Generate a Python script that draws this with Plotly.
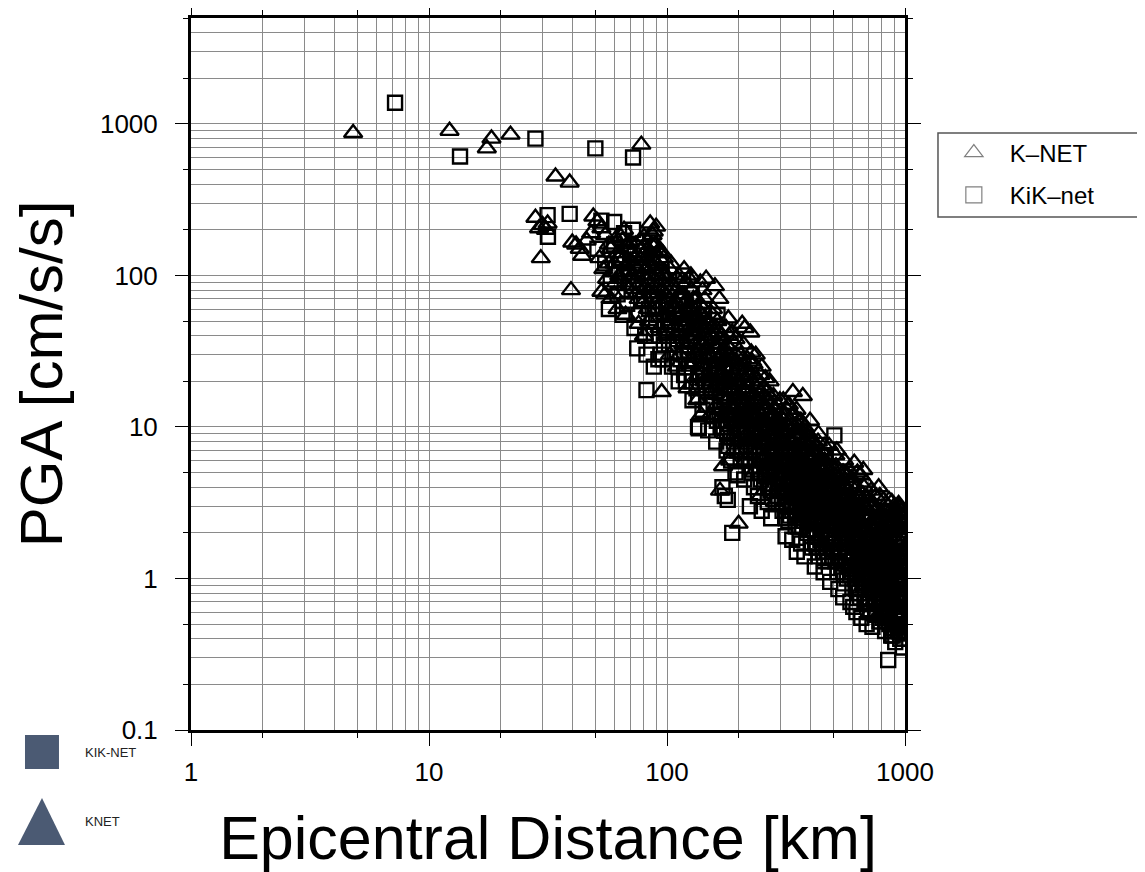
import plotly.graph_objects as go

# ---------------- data ----------------
# K-NET stations: (epicentral distance km, PGA cm/s/s)
knet_points = [
    (4.8, 870), (12.2, 900), (17.5, 690), (18.3, 800), (22.0, 850), (34.0, 450), (39.0, 410), (78.0, 730),
    (28.0, 240), (29.0, 205), (30.0, 215), (31.0, 200), (29.5, 130), (31.5, 220), (39.5, 80), (40.0, 165),
    (41.5, 160), (44.0, 135), (43.0, 150), (46.0, 170), (49.0, 245), (51.0, 228), (53.0, 205), (48.0, 190),
    (55.0, 185), (57.0, 160),
    (52, 130), (54, 110), (56, 95), (58, 150), (60, 120), (62, 140), (63, 100), (65, 170), (66, 130), (67, 85),
    (68, 115), (69, 150), (60, 75), (58, 70), (55, 75), (62, 60), (64, 180), (66, 200), (70, 165), (70, 95),
    (53, 78), (57, 120), (61, 175), (67, 55), (69, 105),
    (71, 140), (72, 120), (73, 90), (74, 160), (75, 110), (76, 70), (77, 130), (78, 150), (79, 100), (80, 180),
    (81, 85), (82, 125), (83, 60), (84, 140), (85, 220), (86, 100), (87, 75), (88, 195), (89, 160), (90, 120),
    (91, 90), (92, 145), (93, 45), (94, 110), (95, 17), (96, 80), (97, 130), (98, 55), (99, 100), (90, 210),
    (87, 185), (84, 50), (80, 40), (76, 48), (93, 70),
    (100, 95), (102, 70), (104, 120), (105, 50), (107, 85), (108, 40), (110, 65), (112, 100), (113, 30), (115, 55),
    (116, 75), (118, 45), (120, 90), (121, 35), (123, 60), (125, 25), (127, 80), (128, 42), (130, 55), (132, 30),
    (133, 70), (135, 22), (137, 48), (138, 90), (140, 35), (142, 60), (143, 20), (145, 40), (147, 28), (149, 50),
    (110, 25), (118, 110), (126, 100), (134, 15), (141, 80), (146, 95), (103, 30), (122, 18), (139, 12), (148, 18),
    (151, 30), (153, 45), (155, 20), (156, 60), (158, 25), (160, 35), (162, 14), (163, 50), (165, 22), (167, 3.8),
    (168, 30), (170, 40), (171, 12), (173, 18), (175, 25), (176, 9), (178, 35), (180, 15), (181, 52), (183, 20),
    (185, 10), (186, 28), (188, 42), (190, 14), (191, 7), (193, 22), (195, 30), (196, 11), (198, 16), (199, 8),
    (159, 85), (166, 70), (172, 5.5), (184, 6), (152, 12), (177, 45), (194, 38), (200, 2.3), (169, 16), (187, 19),
    (202, 25), (205, 15), (207, 48), (208, 9), (210, 35), (212, 20), (214, 6), (215, 12), (218, 28), (220, 18),
    (222, 8), (224, 42), (225, 14), (228, 22), (230, 10), (232, 5), (234, 16), (236, 30), (238, 12), (240, 7),
    (243, 20), (245, 9), (248, 15), (250, 25), (252, 6), (255, 11), (258, 18), (260, 8), (263, 13), (265, 4.5),
    (268, 10), (270, 20), (273, 7), (275, 12), (278, 5.5), (280, 16), (283, 9), (285, 6), (288, 11), (290, 14),
    (292, 4), (295, 8), (297, 12), (299, 6.5), (246, 3.5), (262, 17), (226, 31), (212, 45), (284, 3.2), (267, 15),
    (302, 10), (305, 6), (308, 15), (310, 4), (312, 8), (315, 12), (318, 5), (320, 9), (323, 3.5), (325, 14),
    (328, 7), (330, 11), (333, 4.5), (335, 8), (338, 17), (340, 6), (343, 10), (345, 3), (348, 5.5), (350, 13),
    (353, 7.5), (355, 4), (358, 9), (360, 2.5), (363, 6), (365, 11), (368, 5), (370, 3.2), (373, 8), (375, 4.2),
    (378, 10), (380, 6.5), (383, 2.8), (385, 5), (388, 7), (390, 3.6), (393, 9), (395, 4.8), (398, 2.2), (372, 16),
    (402, 6), (405, 3), (408, 8), (410, 2), (413, 5), (415, 4), (418, 7), (420, 2.6), (423, 3.5), (425, 6.5),
    (428, 1.8), (430, 4.5), (433, 9), (435, 3), (438, 5.5), (440, 2.2), (443, 7), (445, 3.8), (448, 1.6), (450, 5),
    (455, 2.8), (460, 6), (465, 3.4), (470, 1.9), (475, 4.2), (480, 7.5), (485, 2.4), (490, 5.5), (495, 3), (500, 1.5),
    (505, 4), (510, 6.5), (515, 2.2), (520, 3.6), (525, 1.3), (530, 5), (535, 2.7), (540, 4.4), (545, 1.8), (550, 3.2),
    (555, 6), (560, 2.1), (565, 1.2), (570, 3.8), (575, 2.5), (580, 5.2), (585, 1.6), (590, 2.9), (595, 4.6), (598, 1.1),
    (603, 3), (607, 1.8), (612, 5.8), (616, 2.4), (620, 1.2), (625, 4), (630, 2), (635, 3.4), (640, 1), (645, 2.8),
    (650, 4.8), (655, 1.5), (660, 2.2), (665, 3.6), (670, 0.9), (675, 1.8), (680, 2.9), (685, 4.3), (690, 1.3), (695, 2.4),
    (700, 3.2), (705, 0.8), (710, 1.9), (715, 2.6), (720, 3.8), (725, 1.1), (730, 2.1), (735, 0.7), (740, 3), (745, 1.6),
    (750, 2.4), (755, 3.5), (760, 1.2), (765, 0.65), (770, 2), (775, 4), (780, 1.4), (785, 2.7), (790, 0.9), (795, 1.8),
    (632, 0.95), (668, 5.2), (712, 0.6), (758, 0.55), (748, 1.45),
    (803, 2.5), (808, 1.2), (812, 3.3), (817, 0.8), (822, 1.9), (826, 2.8), (830, 1.5), (835, 0.6), (840, 2.2), (845, 3),
    (850, 1.1), (855, 1.7), (860, 2.5), (865, 0.5), (870, 1.3), (875, 2), (880, 3.2), (885, 0.9), (890, 1.6), (895, 2.3),
    (900, 0.45), (905, 1.2), (910, 2.7), (915, 1.8), (920, 0.7), (925, 1.4), (930, 2.1), (935, 3), (940, 0.55), (945, 1.5),
    (950, 2.4), (955, 1), (960, 1.9), (965, 0.42), (970, 2.8), (975, 1.3), (980, 0.75), (985, 2), (990, 1.6), (995, 0.5),
    (61, 90), (63, 130), (65, 75), (68, 160), (71, 100), (73, 130), (75, 85), (77, 170), (79, 65), (81, 110),
    (83, 150), (85, 90), (86, 130), (88, 70), (90, 160), (92, 100), (94, 65), (96, 140), (98, 85), (99, 40),
    (101, 60), (103, 110), (106, 45), (109, 80), (111, 55), (114, 90), (117, 35), (119, 65), (122, 50), (124, 95),
    (126, 38), (129, 70), (131, 45), (134, 60), (136, 32), (139, 55), (141, 25), (144, 70), (146, 45), (149, 30),
    (152, 40), (155, 55), (157, 18), (161, 45), (164, 28), (167, 38), (170, 22), (174, 32), (177, 15), (179, 28),
    (182, 40), (185, 18), (189, 25), (192, 35), (197, 20), (201, 12), (204, 30), (209, 18), (213, 25), (216, 9),
    (221, 22), (227, 16), (231, 26), (235, 8), (239, 18), (242, 13), (247, 22), (251, 10), (256, 16), (261, 11),
    (266, 7), (271, 14), (276, 9), (281, 12), (287, 7.5), (293, 10), (298, 15), (304, 8), (309, 11), (314, 6),
    (319, 13), (324, 7), (329, 9.5), (334, 5.5), (339, 12), (344, 7), (349, 9), (354, 6), (359, 11), (364, 4),
    (369, 7.5), (374, 9.5), (379, 5), (384, 8), (389, 4.5), (394, 6.5), (399, 11),
    (404, 4.5), (411, 7), (417, 3), (424, 5), (431, 8), (437, 4), (444, 6), (451, 3.5), (458, 7.5), (464, 4.5),
    (471, 2.8), (478, 6), (486, 3.8), (493, 5), (501, 2.5), (509, 4.8), (517, 7), (524, 3), (532, 4), (541, 2.3),
    (549, 5), (557, 3.5), (566, 2.2), (574, 4.8), (583, 3), (592, 2), (601, 4.2), (611, 3.2), (621, 2.5), (631, 5),
    (641, 3.5), (651, 1.8), (662, 2.8), (673, 4), (684, 2), (695, 3.4),
    (706, 2.8), (716, 1.6), (727, 3.2), (738, 2.2), (749, 1.3), (761, 2.9), (772, 1.7), (784, 3.5), (796, 2.2), (808, 1.8),
    (819, 2.6), (832, 1.2), (844, 2.4), (857, 3.3), (869, 1.7), (882, 2.3), (894, 1.1), (907, 2.9), (919, 1.5), (932, 2.2),
    (945, 2.9), (958, 1.2), (971, 1.7), (984, 2.5), (997, 1.9), (940, 3.1), (900, 3.0), (960, 2.6),
    (154, 26), (158, 42), (163, 33), (168, 20), (173, 27), (178, 21), (183, 30), (188, 13), (193, 27), (198, 24),
    (203, 19), (208, 28), (213, 14), (218, 22), (223, 12), (228, 27), (233, 14), (238, 21), (243, 11), (249, 17),
    (254, 13), (259, 21), (264, 9.5), (269, 16), (274, 11), (279, 8), (286, 13), (291, 9), (296, 11), (301, 7),
    (307, 12), (313, 9), (319, 7.5), (326, 10), (332, 6.5), (337, 9), (342, 12), (347, 6), (352, 8.5), (357, 10),
    (362, 7), (367, 5), (371, 9), (376, 6), (381, 8), (386, 5.5), (391, 7.5), (397, 5), (403, 8), (409, 5.5),
    (415, 6.5), (421, 4.2), (427, 7.5), (433, 5), (439, 3.6), (446, 6), (453, 4.2), (461, 5.5), (468, 3.4), (476, 5),
    (483, 3.2), (491, 4.5), (498, 3.8), (506, 2.8), (513, 5.5), (521, 3.3), (528, 4.5), (537, 2.6), (545, 3.8), (553, 2.4),
    (562, 4), (571, 2.7), (579, 3.5), (588, 2.4), (597, 3.2), (606, 2.2), (615, 3.8), (624, 1.9), (634, 2.9), (644, 2.1),
    (654, 3.2), (664, 1.7), (675, 2.5), (686, 1.5), (697, 2.1), (708, 3), (719, 1.9), (731, 1.4), (743, 2.5), (755, 1.8),
    (767, 1.1), (779, 2.3), (791, 1.6), (803, 1.1), (815, 2.1), (827, 1.5), (839, 1.0), (851, 2), (863, 1.4), (876, 0.95),
    (889, 1.9), (902, 1.3), (915, 2.4), (928, 1.1), (941, 1.7), (954, 0.9), (967, 2.1), (980, 1.4), (993, 1.1), (999, 2.7),
    (60, 105), (64, 95), (70, 125), (74, 75), (79, 135), (83, 80), (87, 115), (91, 60), (95, 90), (97, 70),
    (102, 85), (106, 65), (110, 95), (114, 42), (118, 75), (122, 40), (127, 58), (131, 35), (136, 48), (140, 28),
    (144, 52), (148, 37),
    (82, 95), (86, 160), (89, 110), (93, 130), (96, 100), (99, 75), (104, 90), (108, 60), (112, 75), (116, 50),
    (120, 68), (124, 45), (128, 62), (132, 40), (137, 65), (141, 45), (145, 33), (150, 48), (155, 35), (160, 26),
    (165, 42), (170, 30), (175, 20), (180, 34), (186, 24), (191, 20), (196, 27), (202, 16), (208, 22), (214, 17),
    (220, 13), (226, 20), (233, 11), (239, 15), (246, 12), (253, 18), (260, 13), (267, 9), (274, 12), (281, 10),
    (289, 8), (297, 10.5), (305, 9), (313, 7), (321, 10), (329, 8), (337, 6), (345, 7.5), (354, 9.5), (363, 5.5),
    (372, 7), (381, 5.8), (390, 8.5), (400, 5.3), (410, 6.3), (420, 4.8), (430, 3.9), (441, 5.2), (452, 4.4), (463, 3.3),
    (474, 4.6), (486, 3.4), (498, 4.3), (510, 3.1), (522, 2.5), (535, 3.5), (548, 4.2), (561, 2.9), (575, 2.2), (589, 3.4),
    (603, 2.6), (618, 2.1), (633, 2.8), (648, 2.4), (664, 1.6), (680, 2.6), (697, 1.8), (714, 2.3), (731, 1.6), (749, 2.1),
    (767, 2.6), (786, 1.6), (805, 2.1), (825, 1.7), (845, 1.35), (866, 2.2), (887, 1.4), (909, 2.1), (931, 1.3), (954, 2.2),
    (977, 1.5), (998, 2.3),
]

# KiK-net stations: (epicentral distance km, PGA cm/s/s)
kik_points = [
    (7.2, 1380), (13.5, 610), (28, 800), (50, 690), (72, 600), (31.5, 250), (39, 255), (31.6, 180),
    (60, 225), (72, 200), (75, 33), (82, 30), (82, 17.5), (53, 230), (66, 190), (85, 170),
    (51, 150), (55, 120), (58, 90), (60, 160), (62, 75), (64, 130), (66, 100), (68, 65), (70, 140), (72, 85),
    (74, 110), (76, 55), (78, 120), (80, 70), (83, 95), (85, 45), (87, 130), (89, 60), (91, 80), (93, 40),
    (95, 105), (97, 35), (99, 65), (88, 25), (92, 28),
    (101, 50), (104, 80), (106, 35), (108, 60), (111, 25), (113, 45), (116, 70), (118, 30), (120, 20), (123, 55),
    (125, 38), (128, 15), (130, 28), (132, 45), (135, 10), (137, 22), (139, 35), (141, 13), (143, 60), (145, 18),
    (147, 30), (149, 9.5), (117, 100), (127, 75), (136, 9.8),
    (152, 25), (154, 40), (157, 14), (159, 22), (161, 8), (164, 32), (166, 12), (168, 18), (171, 4), (173, 10),
    (175, 3.5), (176, 25), (178, 7), (180, 3.3), (182, 13), (184, 20), (186, 6), (188, 2.0), (190, 11), (192, 16),
    (194, 5), (196, 9), (198, 4.8), (199, 14), (163, 55),
    (203, 12), (206, 7), (209, 20), (211, 4.5), (214, 10), (217, 15), (220, 6), (223, 3), (226, 9), (229, 12),
    (232, 4), (235, 7.5), (238, 16), (241, 3.5), (244, 5.5), (247, 10), (250, 2.8), (253, 8), (256, 4), (259, 12),
    (262, 6), (265, 3.2), (268, 8.5), (271, 5), (274, 2.5), (277, 7), (280, 4.2), (285, 10), (290, 3.5), (295, 6),
    (303, 5), (306, 2.8), (309, 8), (312, 3.5), (315, 1.9), (318, 6), (321, 4), (324, 2.4), (327, 7), (330, 3),
    (333, 5), (336, 1.8), (339, 4.4), (342, 8.5), (345, 2.6), (348, 3.8), (351, 1.5), (354, 6), (357, 2.2), (360, 4.8),
    (363, 3.2), (366, 1.7), (369, 5.5), (372, 2.9), (375, 4), (378, 1.4), (381, 3.5), (384, 6.5), (388, 2), (393, 3),
    (402, 3), (406, 1.6), (410, 4.5), (414, 2.4), (418, 1.2), (422, 3.6), (426, 2), (430, 5.5), (434, 1.4), (438, 2.8),
    (442, 4), (446, 1.8), (450, 3.2), (455, 1.1), (460, 2.5), (465, 6.5), (470, 1.5), (475, 3.8), (480, 2.1), (485, 0.95),
    (490, 2.9), (495, 1.7), (500, 4.5), (505, 8.8), (510, 1.3), (515, 2.4), (520, 3.5), (525, 0.85), (530, 1.9), (535, 2.8),
    (540, 1.2), (545, 3.3), (550, 0.75), (555, 2), (560, 1.5), (565, 4.2), (570, 1), (580, 2.6), (590, 0.7), (597, 1.8),
    (602, 1.4), (606, 0.65), (610, 2.2), (615, 1), (620, 3.2), (625, 0.6), (630, 1.6), (635, 2.5), (640, 0.8), (645, 1.2),
    (650, 2), (655, 0.55), (660, 1.5), (665, 0.9), (670, 2.6), (675, 1.1), (680, 0.7), (685, 1.8), (690, 0.5), (695, 1.3),
    (700, 2.2), (705, 0.85), (710, 1.5), (715, 0.6), (720, 1), (725, 1.9), (730, 0.48), (735, 1.2), (740, 0.75), (745, 1.6),
    (750, 0.95), (755, 2.4), (760, 0.58), (765, 1.3), (770, 0.8), (775, 1.7), (780, 0.52), (785, 1), (790, 0.68), (795, 1.4),
    (802, 0.9), (806, 0.55), (810, 1.5), (815, 0.7), (820, 1.1), (825, 0.45), (830, 2), (835, 0.85), (840, 0.6), (845, 1.3),
    (850, 0.29), (855, 0.95), (860, 0.5), (865, 1.6), (870, 0.75), (875, 0.42), (880, 1.2), (885, 0.65), (890, 2.4), (895, 0.85),
    (900, 0.5), (905, 1.1), (910, 0.38), (915, 0.7), (920, 1.4), (925, 0.55), (930, 0.9), (935, 0.45), (940, 1.8), (945, 0.62),
    (950, 1), (955, 0.4), (960, 0.75), (965, 1.3), (970, 0.5), (975, 0.85), (980, 0.35), (985, 1.1), (990, 0.6), (995, 1.5),
    (57, 60), (61, 110), (65, 55), (69, 90), (73, 45), (77, 80), (81, 40), (86, 75), (90, 50), (94, 30),
    (98, 45), (102, 35), (107, 55), (112, 20), (115, 40), (119, 48), (124, 28), (129, 40), (133, 18), (138, 30),
    (142, 22), (146, 14), (150, 20),
    (156, 30), (160, 17), (165, 24), (170, 12), (174, 20), (179, 9), (183, 16), (187, 25), (191, 8), (195, 13),
    (200, 18), (205, 10), (210, 14), (215, 7), (221, 11), (227, 5), (233, 9), (239, 12), (245, 6.5), (251, 9),
    (257, 5), (263, 8), (269, 4.2), (275, 6), (282, 8), (288, 5), (294, 3.2), (299, 4.5),
    (305, 7), (311, 4.5), (317, 3), (323, 5.5), (329, 2.6), (335, 4), (341, 6), (347, 2.2), (353, 3.8), (359, 5.5),
    (365, 2.8), (371, 4.2), (377, 2.4), (383, 3.3), (390, 5), (396, 2.1), (404, 2.4), (412, 3.5), (420, 1.7), (428, 2.9),
    (436, 4.2), (444, 2.2), (452, 1.5), (460, 3.4), (468, 2.1), (477, 1.3), (486, 2.6), (494, 3.6), (503, 1.7), (512, 2.2),
    (521, 1.1), (530, 2.9), (540, 1.6), (549, 2.3), (559, 1.3), (569, 1.9), (579, 1.2), (589, 2.4), (599, 1.1),
    (608, 1.8), (618, 1.2), (628, 0.9), (638, 1.8), (648, 0.75), (658, 1.2), (668, 1.6), (679, 0.8), (690, 1.1), (701, 1.5),
    (712, 0.7), (723, 1.25), (734, 0.9), (746, 1.4), (757, 0.7), (769, 1.1), (781, 0.8), (793, 0.6), (805, 1.2), (817, 0.9),
    (829, 0.55), (842, 1), (855, 0.7), (868, 1.2), (881, 0.5), (894, 0.8), (907, 0.6), (921, 1), (934, 0.7), (948, 0.5),
    (962, 0.9), (976, 0.6), (990, 0.45), (998, 0.8), (985, 0.65), (970, 1.05), (945, 0.8), (915, 0.5), (888, 0.42), (862, 0.62),
    (153, 18), (158, 28), (162, 11), (167, 16), (172, 23), (177, 11), (181, 7.5), (186, 12), (191, 18), (197, 7),
    (202, 9), (207, 13), (212, 6), (218, 9.5), (224, 7), (230, 11), (236, 5.5), (242, 8), (248, 4.5), (254, 6.5),
    (260, 10), (266, 5.5), (272, 3.8), (278, 5.5), (284, 7), (291, 4.2), (297, 6), (304, 3.8), (310, 5.5), (316, 2.5),
    (322, 4.2), (328, 5), (334, 3), (340, 3.6), (346, 5), (352, 2.8), (358, 3.4), (364, 4.5), (370, 2.2), (376, 3.2),
    (382, 4.2), (389, 2.5), (395, 3.8), (401, 1.9), (409, 2.8), (417, 3.8), (425, 1.6), (433, 2.4), (441, 3), (449, 2),
    (457, 1.3), (466, 2.7), (475, 1.9), (484, 3.2), (493, 1.4), (502, 2.4), (511, 1.8), (520, 2.7), (529, 1.4), (538, 2.1),
    (548, 1.1), (558, 1.8), (568, 2.6), (578, 1.5), (588, 1.05), (598, 2.1), (609, 1.5), (620, 0.85), (631, 1.3), (642, 2),
    (653, 1), (664, 1.35), (676, 0.95), (688, 1.5), (700, 0.7), (712, 1.2), (724, 0.85), (736, 1.5), (749, 0.6), (762, 1),
    (775, 1.35), (788, 0.75), (801, 1.05), (814, 0.6), (827, 1.4), (840, 0.8), (854, 0.55), (868, 0.95), (882, 0.7), (896, 1.2),
    (910, 0.45), (924, 0.8), (938, 1.05), (952, 0.6), (966, 0.7), (980, 1.2), (994, 0.7), (987, 0.4), (958, 0.48), (932, 0.58),
    (84, 60), (88, 40), (92, 55), (96, 28), (100, 40), (105, 25), (110, 38), (114, 28), (118, 22), (122, 32),
    (127, 20), (131, 30), (135, 16), (140, 25), (144, 20), (148, 14), (153, 22), (158, 12), (163, 19), (168, 10),
    (174, 15), (180, 11), (186, 8.5), (192, 12), (198, 9), (204, 6), (210, 9.5), (217, 8), (224, 5.5), (231, 7),
    (238, 9), (246, 5), (254, 7.5), (262, 4.8), (270, 6.5), (279, 4), (288, 5.8), (297, 3.8), (306, 4.5), (316, 3.2),
    (326, 4.5), (336, 2.8), (346, 3.4), (357, 4.1), (368, 2.5), (379, 3.1), (391, 2.6), (403, 3.3), (415, 2.1), (428, 2.5),
    (441, 1.8), (454, 2.5), (468, 1.6), (482, 2.3), (497, 1.5), (512, 2.7), (527, 1.5), (543, 2), (559, 1.4), (576, 1.7),
    (593, 1.3), (611, 1.7), (629, 1.1), (648, 1.45), (667, 1.1), (687, 0.95), (707, 1.35), (728, 1.05), (750, 0.8), (772, 1.2),
    (795, 0.9), (818, 0.75), (842, 1.15), (867, 0.85), (892, 0.65), (918, 0.95), (945, 0.7), (972, 0.55), (995, 0.95), (980, 0.5),
]

knet_dist = [p[0] for p in knet_points]
knet_pga = [p[1] for p in knet_points]
kik_dist = [p[0] for p in kik_points]
kik_pga = [p[1] for p in kik_points]

x_labels = ["1", "10", "100", "1000"]
x_major = [1, 10, 100, 1000]
y_labels = ["0.1", "1", "10", "100", "1000"]
y_major = [0.1, 1, 10, 100, 1000]
x_minor_ticks = [2, 5, 20, 50, 200, 500]
y_minor_ticks = [0.2, 0.5, 2, 5, 20, 50, 200, 500, 2000, 5000]
x_grid = [m * d for d in [1, 10, 100] for m in range(2, 10)]
y_grid = [m * d for d in [0.1, 1, 10, 100, 1000] for m in range(2, 10)]

FONT = "Liberation Sans, Arial, Helvetica, sans-serif"
GRID = "#8a8a8a"

fig = go.Figure()

fig.add_trace(go.Scatter(
    x=kik_dist, y=kik_pga, mode="markers", name="KiK-net", showlegend=False,
    marker=dict(symbol="square-open", size=14, color="black", line=dict(width=2.4, color="black")),
))
fig.add_trace(go.Scatter(
    x=knet_dist, y=knet_pga, mode="markers", name="K-NET", showlegend=False,
    marker=dict(symbol="triangle-up-open", size=16, color="black", line=dict(width=2.4, color="black")),
))
# legend entries (grey outline symbols as in the reference)
fig.add_trace(go.Scatter(
    x=[None], y=[None], mode="markers", name="K\u2013NET", legendgroup="a",
    marker=dict(symbol="triangle-up-open", size=16, color="#808080", line=dict(width=1.2, color="#808080")),
))
fig.add_trace(go.Scatter(
    x=[None], y=[None], mode="markers", name="KiK\u2013net", legendgroup="b",
    marker=dict(symbol="square-open", size=16, color="#808080", line=dict(width=1.2, color="#808080")),
))
# helper trace so the secondary tick axes are drawn
fig.add_trace(go.Scatter(x=[None], y=[None], xaxis="x2", yaxis="y2", showlegend=False, hoverinfo="skip"))

fig.update_layout(
    width=1145, height=872,
    margin=dict(l=183, r=248, t=10, b=150, autoexpand=False),
    paper_bgcolor="white", plot_bgcolor="white",
    font=dict(family=FONT, color="black"),
    showlegend=True,
    legend=dict(
        x=1.046, y=0.842, xanchor="left", yanchor="top",
        bgcolor="rgba(0,0,0,0)", borderwidth=0,
        font=dict(size=24, family=FONT, color="black"),
        itemwidth=62, tracegroupgap=8, traceorder="grouped",
    ),
    xaxis=dict(
        type="log", range=[0, 3], automargin=False,
        tickmode="array", tickvals=x_major, ticktext=x_labels,
        ticks="outside", ticklen=13, tickwidth=1.2, tickcolor="black",
        tickfont=dict(size=26, family=FONT), ticklabelstandoff=4,
        showline=True, linewidth=3, linecolor="black", mirror="ticks",
        showgrid=True, gridcolor=GRID, gridwidth=1.2,
        minor=dict(tickmode="array", tickvals=x_grid, ticks="", showgrid=True, gridcolor=GRID, gridwidth=1.2),
        zeroline=False,
        title=dict(text="Epicentral Distance [km]", font=dict(size=61, family=FONT), standoff=31),
    ),
    yaxis=dict(
        type="log", range=[-1, 3.69897], automargin=False,
        tickmode="array", tickvals=y_major, ticktext=y_labels,
        ticks="outside", ticklen=13, tickwidth=1.2, tickcolor="black",
        tickfont=dict(size=26, family=FONT), ticklabelstandoff=12,
        showline=True, linewidth=3, linecolor="black", mirror="ticks",
        showgrid=True, gridcolor=GRID, gridwidth=1.2,
        minor=dict(tickmode="array", tickvals=y_grid, ticks="", showgrid=True, gridcolor=GRID, gridwidth=1.2),
        zeroline=False,
        title=dict(text="PGA [cm/s/s]", font=dict(size=60, family=FONT), standoff=27),
    ),
    xaxis2=dict(
        type="log", range=[0, 3], overlaying="x", anchor="y2", side="bottom",
        tickmode="array", tickvals=x_minor_ticks, showticklabels=False,
        ticks="outside", ticklen=7, tickwidth=1.2, tickcolor="black",
        showline=False, mirror="ticks", showgrid=False, zeroline=False, automargin=False,
    ),
    yaxis2=dict(
        type="log", range=[-1, 3.69897], overlaying="y", anchor="x2", side="left",
        tickmode="array", tickvals=y_minor_ticks, showticklabels=False,
        ticks="outside", ticklen=7, tickwidth=1.2, tickcolor="black",
        showline=False, mirror="ticks", showgrid=False, zeroline=False, automargin=False,
    ),
)

# legend frame: open on the right, running past the figure edge as in the reference
fig.add_shape(type="path", xref="paper", yref="paper", layer="below",
              path="M 1.40 0.8385 L 1.0462 0.8385 L 1.0462 0.7205 L 1.40 0.7205",
              line=dict(width=1.5, color="#555555"))

# decorative symbols at lower-left of the figure
SLATE = "#4b5a73"
fig.add_shape(type="rect", xref="paper", yref="paper",
              x0=-0.2325, x1=-0.1849, y0=-0.0548, y1=-0.0070,
              fillcolor=SLATE, line=dict(width=0))
fig.add_shape(type="path", xref="paper", yref="paper",
              path="M -0.2087 -0.0955 L -0.2423 -0.1615 L -0.1765 -0.1615 Z",
              fillcolor=SLATE, line=dict(width=0))
fig.add_annotation(text="KIK-NET", xref="paper", yref="paper", x=-0.1513, y=-0.0309,
                   xanchor="left", yanchor="middle", showarrow=False,
                   font=dict(size=13, family=FONT, color="#222222"))
fig.add_annotation(text="KNET", xref="paper", yref="paper", x=-0.1513, y=-0.1292,
                   xanchor="left", yanchor="middle", showarrow=False,
                   font=dict(size=13, family=FONT, color="#222222"))

fig.write_html("out.html")
